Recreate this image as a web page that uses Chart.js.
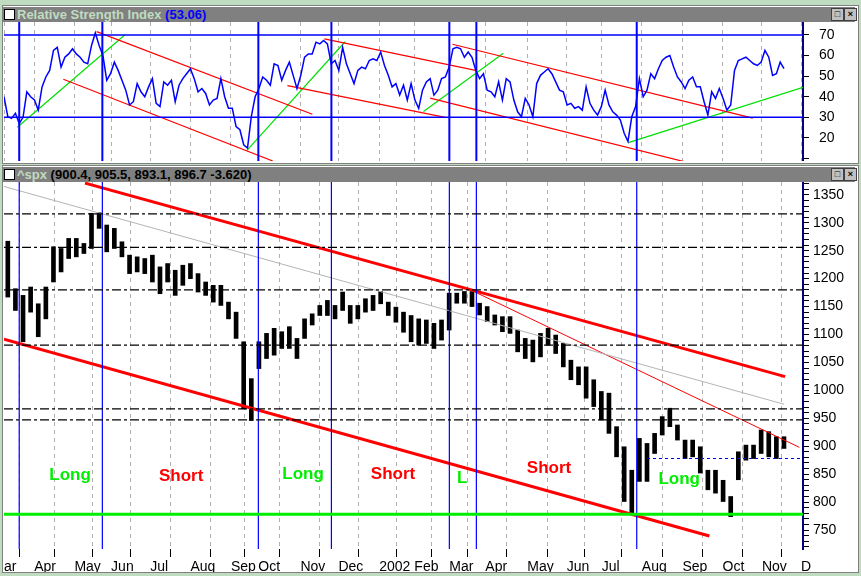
<!DOCTYPE html>
<html>
<head>
<meta charset="utf-8">
<script src="https://cdn.jsdelivr.net/npm/chart.js@4.4.1/dist/chart.umd.min.js"></script>
<style>
  body { margin: 0; width: 861px; height: 576px; background: #c0dcc0; position: relative; overflow: hidden; font-family: "Liberation Sans", Arial, sans-serif; }
  .frame { position: absolute; left: 2px; width: 855px; background: #fff; border: 1px solid #808080; }
  .bar { position: absolute; left: 2px; width: 853px; height: 15px; background: #808080; font-weight: bold; font-size: 13px; line-height: 15px; white-space: nowrap; }
  .bar .box { display: inline-block; width: 9px; height: 9px; background: #fff; border: 1px solid #000; margin: 0 2px 0 2px; vertical-align: -1px; }
  .bar .btn { position: absolute; top: 1px; width: 11px; height: 11px; background: #c0c0c0; border: 1px solid #404040; font-size: 9px; line-height: 10px; text-align: center; }
  canvas { position: absolute; }
</style>
</head>
<body>
<div class="frame" style="top:5px;height:157px;"></div>
<div class="bar" style="top:7px;"><span class="box"></span><span style="color:#c0dcc0">Relative Strength Index </span><span style="color:#0000ff">(53.06)</span>
  <span class="btn" style="left:829px">&#9633;</span><span class="btn" style="left:842px">&#215;</span></div>
<div class="frame" style="top:165px;height:406px;"></div>
<div class="bar" style="top:167px;"><span class="box"></span><span style="color:#c0dcc0">^spx </span><span style="color:#000">(900.4, 905.5, 893.1, 896.7 -3.620)</span>
  <span class="btn" style="left:829px">&#9633;</span><span class="btn" style="left:842px">&#215;</span></div>
<div style="position:absolute;left:4px;top:22px;width:851px;height:139px"><canvas id="rsiChart"></canvas></div>
<div style="position:absolute;left:4px;top:182px;width:851px;height:390px"><canvas id="pxChart"></canvas></div>
<script>
// ---- data (x in trading-bar units, 0 = start of visible range) ----
const MONTH_POS   = [0, 15.9, 37, 56.3, 76.9, 98, 119.3, 133.7, 155.8, 175.8, 197.2, 215.7, 234.1, 253, 275.1, 295.8, 314.2, 335.3, 356.6, 377.7, 398.4, 419];
const MONTH_NAMES = ['ar', 'Apr', 'May', 'Jun', 'Jul', 'Aug', 'Sep', 'Oct', 'Nov', 'Dec', '2002', 'Feb', 'Mar', 'Apr', 'May', 'Jun', 'Jul', 'Aug', 'Sep', 'Oct', 'Nov', 'D'];
const SIGNAL_X    = [8, 51.7, 133.7, 172.1, 234.1, 248.3, 332.6];

// RSI sampled every 2 bars from x=0
const RSI_STEP = 2;
const rsiValues = [
  40, 30.3, 29.5, 32, 27, 30, 42.4, 40, 38.4, 33.5, 44.8, 49.6, 52.8, 62.5, 64, 54.4, 59.2, 60.8, 63.3, 60.8,
  59.2, 56.8, 56, 64.9, 71, 64.9, 60, 48, 51.2, 56.8, 52.8, 48, 43.2, 36, 37.6, 46.4, 42.4, 40, 44.8, 48.8,
  36.8, 35.2, 47.2, 45.6, 48, 37.6, 45.6, 48.8, 51.2, 53.6, 48.8, 42.4, 44, 41.6, 36, 38.4,
  39.2, 48.8, 40, 34.4, 34.4, 25.5, 24, 16.7, 15.1, 30.3, 40, 44, 49.6, 48, 45.6, 56, 55.2, 48, 52.8, 56.8,
  50.4, 44, 50.4, 59.2, 60.8, 60.8, 66.5, 65.7, 67.3, 65.7, 56, 57.6, 52.8, 64, 56, 51.2, 46.4, 52.8, 54.4, 53.6,
  57.6, 58.4, 57.6, 61.7, 55.2, 50.4, 44.8, 46.4, 40.8, 45.6, 38.4, 46.4, 38.4, 34.4, 43.2,
  47.2, 48.8, 40.8, 43.2, 48.8, 49.6, 54.4, 63.3, 64, 63.3, 59.2, 61.7, 59.2, 52.8, 48.8, 51.2, 43.2, 42.4, 40, 47.2,
  38.4, 48.8, 47.2, 38.4, 32.7, 30.3, 39.2, 36, 30.3, 46.4, 50.4, 52, 53.6, 51.2, 47.2, 43.2, 42.4, 36, 36.8, 34.4,
  35.2, 33.5, 44.8, 36.8, 33.5, 31.1, 35.2, 43.2, 36, 32.7, 31.1, 28.7, 22.3, 18.3, 30.3, 35.2,
  48.8, 40, 43.2, 51.2, 48.8, 53.6, 57.6, 59.2, 60, 54.4, 49.6, 47.2, 44, 48, 49.6, 44.8, 44.8, 37.6, 31.1, 42.4,
  39.2, 44, 39.2, 33.5, 36, 52.8, 57.6, 58.4, 59.2, 57.6, 56, 55.2, 56.8, 62.5, 59.2, 50.4, 51.2, 56.8, 53.6
];

// S&P 500 high/low sampled every 4 bars from x=0
const PX_STEP = 4;
const pxLow  = [1167, 1143, 1087, 1140, 1096, 1128, 1194, 1212, 1236, 1239, 1245, 1254, 1290, 1248, 1254, 1239, 1209, 1212, 1209, 1194,
  1173, 1194, 1170, 1188, 1200, 1176, 1170, 1158, 1152, 1128, 1093, 967, 946, 1039, 1057, 1063, 1075, 1075, 1057, 1093,
  1117, 1134, 1134, 1128, 1143, 1120, 1128, 1140, 1143, 1155, 1134, 1122, 1104, 1087, 1081, 1084, 1075, 1090, 1108, 1156,
  1156, 1150, 1135, 1123, 1117, 1105, 1102, 1069, 1057, 1051, 1060, 1081, 1066, 1042, 1019, 1010, 986, 971, 947, 923,
  881, 801, 780, 837, 837, 887, 920, 935, 911, 878, 881, 852, 822, 816, 801, 774, 840, 875, 878, 887, 881, 878, 896];
const pxHigh = [1267, 1182, 1170, 1185, 1155, 1185, 1257, 1254, 1272, 1272, 1263, 1317, 1318, 1296, 1290, 1266, 1242, 1239, 1236, 1242,
  1221, 1227, 1215, 1224, 1227, 1209, 1194, 1188, 1188, 1158, 1140, 1087, 1021, 1087, 1102, 1111, 1105, 1114, 1093, 1128,
  1137, 1152, 1161, 1152, 1176, 1152, 1152, 1164, 1170, 1177, 1158, 1149, 1140, 1134, 1128, 1126, 1120, 1126, 1174, 1174,
  1177, 1177, 1156, 1150, 1135, 1132, 1132, 1108, 1093, 1090, 1102, 1111, 1099, 1084, 1054, 1042, 1042, 1019, 998, 995,
  935, 899, 857, 914, 905, 923, 953, 968, 938, 911, 911, 899, 857, 857, 839, 810, 890, 902, 902, 929, 926, 917, 917];

// trend lines: [x1, y1, x2, y2]
const rsiRedLines = [[48.7, 71.6, 162.1, 31.5], [31.2, 48.5, 141.3, 8.8], [168.4, 68.1, 248.5, 52.7], [149, 45.4, 231.9, 30], [235.7, 65.5, 393.6, 29.6], [224, 39.3, 357.5, 8.5]];
const rsiGreenLines = [[7, 25.2, 63.6, 70.1], [127.6, 13.8, 179.3, 66.7], [220.5, 32.8, 262.5, 61.1], [328.2, 17.7, 420, 44.6]];
const rsiLevels = [70, 30];
const pxChannel = [[42.6, 1371, 410.6, 1024.6], [0, 1091.5, 370.8, 739.2]];
const pxThinRed = [[243.3, 1183, 418.1, 898]];
const pxGray = [[0, 1365, 410.1, 975.1]];
const pxLevels = [1316, 1256, 1180, 1081, 967, 947];
const pxSupport = 778;
const pxNeckline = [338, 878, 420, 878];
const signalText  = ['Long', 'Short', 'Long', 'Short', 'L', 'Short', 'Long'];
const signalTextX = [34.7, 93.1, 157.2, 204.5, 240.8, 286.5, 354.9];
const signalTextY = [848, 847, 850, 850, 843, 861, 840];
const signalColor = ['#00ee00', '#ff0000', '#00ee00', '#ff0000', '#00ee00', '#ff0000', '#00ee00'];

const X_MAX = 420;
const FONT = '"Liberation Sans", Arial, sans-serif';

function seg(p, color, width, dash) {
  return { type: 'line', data: [{ x: p[0], y: p[1] }, { x: p[2], y: p[3] }], borderColor: color,
    borderWidth: width, borderDash: dash || [], pointRadius: 0, order: 0 };
}
function vlines(yMin, yMax, width) {
  return SIGNAL_X.map(x => seg([x, yMin, x, yMax], '#0000ff', width));
}
function monthTicks(scale) {
  scale.ticks = MONTH_POS.map(v => ({ value: v }));
}
// keep the plot area flush with the canvas edges
function noPad(s) { s.paddingTop = 0; s.paddingBottom = 0; s.paddingLeft = 0; s.paddingRight = 0; }
const xBase = {
  type: 'linear', min: 0, max: X_MAX,
  afterBuildTicks: monthTicks,
  border: { display: false, dash: [4, 4] },
};

const textPlugin = {
  id: 'signals',
  afterDatasetsDraw(chart) {
    if (chart.canvas.id !== 'pxChart') return;
    const { ctx, scales: { x, y } } = chart;
    ctx.save();
    ctx.font = 'bold 17px ' + FONT;
    ctx.textAlign = 'center';
    ctx.textBaseline = 'middle';
    signalText.forEach((t, i) => {
      ctx.fillStyle = signalColor[i];
      ctx.fillText(t, x.getPixelForValue(signalTextX[i]), y.getPixelForValue(signalTextY[i]));
    });
    ctx.restore();
  },
};

const common = {
  responsive: true, maintainAspectRatio: false, animation: false,
  layout: { padding: 0 },
  plugins: { legend: { display: false }, tooltip: { enabled: false } },
  events: [],
};

// RSI panel
const RSI_MIN = 8.8, RSI_MAX = 76.3;
new Chart(document.getElementById('rsiChart'), {
  type: 'line',
  data: {
    datasets: [
      ...rsiLevels.map(v => seg([0, v, X_MAX, v], '#0000ff', 1.5)),
      ...vlines(RSI_MIN, RSI_MAX, 2),
      ...rsiRedLines.map(p => seg(p, '#ff0000', 1.2)),
      ...rsiGreenLines.map(p => seg(p, '#00e000', 1.2)),
      { data: rsiValues.map((v, i) => ({ x: i * RSI_STEP, y: v })), borderColor: '#0000ff', borderWidth: 1.5, pointRadius: 0, order: -1 },
    ],
  },
  options: {
    ...common,
    scales: {
      x: { ...xBase, ticks: { display: false }, grid: { color: '#b0b0b0', drawTicks: false }, afterFit: s => { s.height = 0; noPad(s); } },
      y: {
        position: 'right', min: RSI_MIN, max: RSI_MAX,
        afterBuildTicks: s => { s.ticks = [10, 15, 20, 25, 30, 35, 40, 45, 50, 55, 60, 65, 70, 75].map(v => ({ value: v })); },
        afterFit: s => { s.width = 52; noPad(s); },
        border: { color: '#000080', width: 2 },
        grid: { drawOnChartArea: false, color: '#000', tickLength: 6 },
        ticks: { color: '#000', font: { size: 14, family: FONT }, padding: 10,
          callback: v => (v % 10 === 0 && v > 10 ? String(v) : '') },
      },
    },
  },
});

// Price panel
const PX_MIN = 716, PX_MAX = 1373;
const pxTicks = [];
for (let v = 720; v <= 1370; v += 10) pxTicks.push(v);
new Chart(document.getElementById('pxChart'), {
  type: 'bar',
  data: {
    datasets: [
      ...pxLevels.map(v => seg([0, v, X_MAX, v], '#000000', 1.2, [9, 3, 3, 3])),
      seg([0, pxSupport, X_MAX, pxSupport], '#00ee00', 3),
      seg(pxNeckline, '#0000ff', 1, [3, 3]),
      ...vlines(PX_MIN, PX_MAX, 1.2),
      ...pxGray.map(p => seg(p, '#b4b4b4', 1)),
      ...pxThinRed.map(p => seg(p, '#ff0000', 1)),
      ...pxChannel.map(p => seg(p, '#ff0000', 3)),
      { type: 'bar', data: pxLow.map((lo, i) => ({ x: i * PX_STEP + 2, y: [lo, pxHigh[i]] })),
        backgroundColor: '#000', barThickness: 4, order: 1 },
    ],
  },
  options: {
    ...common,
    scales: {
      x: { ...xBase, offset: false,
        ticks: { color: '#000', font: { size: 14, family: FONT }, align: 'start', padding: 2, autoSkip: false, maxRotation: 0,
          callback: (v, i) => MONTH_NAMES[i] },
        grid: { color: '#b0b0b0', tickLength: 8, tickColor: '#000', tickBorderDash: [] },
        afterFit: s => { s.height = 23; noPad(s); } },
      y: {
        position: 'right', min: PX_MIN, max: PX_MAX,
        afterBuildTicks: s => { s.ticks = pxTicks.map(v => ({ value: v })); },
        afterFit: s => { s.width = 52; noPad(s); },
        border: { color: '#000080', width: 2 },
        grid: { drawOnChartArea: false, color: '#000', tickLength: 6 },
        ticks: { color: '#000', font: { size: 14, family: FONT }, padding: 4, autoSkip: false,
          callback: v => (v % 50 === 0 ? String(v) : '') },
      },
    },
  },
  plugins: [textPlugin],
});
</script>
</body>
</html>
